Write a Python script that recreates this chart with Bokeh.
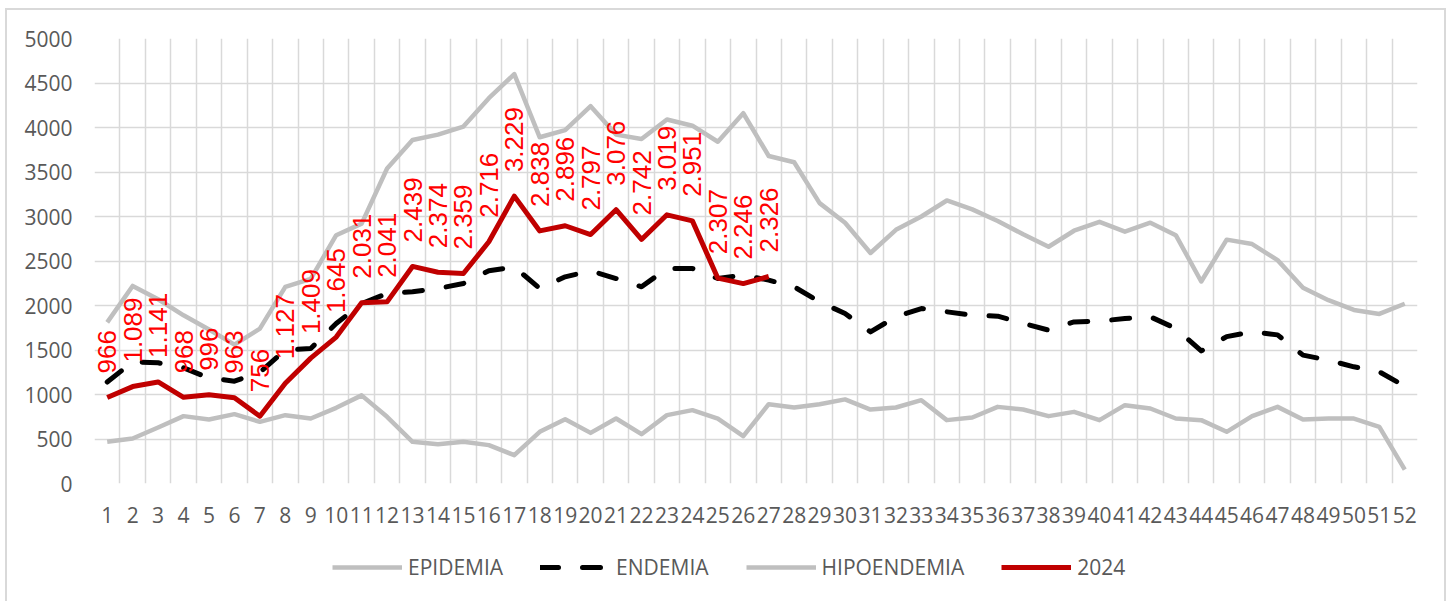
from bokeh.plotting import figure
from bokeh.layouts import column
from bokeh.models import ColumnDataSource, FixedTicker, Legend, LegendItem
from bokeh.core.properties import value
from bokeh.embed import file_html
from bokeh.resources import INLINE
import math

weeks = list(range(1, 53))
week_labels = [str(w) for w in weeks]

epidemia = [1810, 2220, 2070, 1890, 1730, 1560, 1740, 2210, 2300, 2790,
            2920, 3540, 3860, 3920, 4010, 4330, 4600, 3890, 3970, 4240,
            3920, 3870, 4090, 4020, 3840, 4160, 3680, 3610, 3150, 2930,
            2590, 2850, 3000, 3180, 3080, 2950, 2800, 2660, 2840, 2940,
            2830, 2930, 2790, 2270, 2740, 2690, 2510, 2200, 2060, 1950,
            1905, 2020]
endemia = [1140, 1367, 1356, 1300, 1185, 1150, 1250, 1500, 1517, 1798,
           2022, 2135, 2154, 2191, 2247, 2390, 2434, 2191, 2322, 2390,
           2303, 2210, 2416, 2416, 2303, 2341, 2285, 2210, 2041, 1910,
           1704, 1873, 1966, 1929, 1891, 1880, 1800, 1723, 1816, 1824,
           1854, 1873, 1742, 1490, 1650, 1705, 1670, 1442, 1386, 1311,
           1255, 1094]
hipoendemia = [468, 506, 629, 757, 719, 779, 693, 768, 730, 850,
               990, 749, 468, 442, 468, 431, 318, 581, 723, 569,
               730, 554, 768, 824, 730, 532, 891, 854, 891, 945,
               831, 854, 936, 712, 742, 861, 831, 757, 805, 712,
               880, 843, 730, 712, 581, 757, 861, 719, 730, 730,
               637, 157]
y2024 = [966, 1089, 1141, 968, 996, 963, 756, 1127, 1409, 1645,
         2031, 2041, 2439, 2374, 2359, 2716, 3229, 2838, 2896, 2797,
         3076, 2742, 3019, 2951, 2307, 2246, 2326]

y_ticks = [0, 500, 1000, 1500, 2000, 2500, 3000, 3500, 4000, 4500, 5000]

FONT = "Open Sans"
GRAY_TXT = "#595959"
GRID = "#d9d9d9"

STYLES = dict(
    epi=dict(line_color="#bfbfbf", line_width=4.5, line_join="round"),
    end=dict(line_color="black", line_width=5, line_dash="18 24",
             line_cap="round", line_join="round"),
    hipo=dict(line_color="#bfbfbf", line_width=4.5, line_join="round"),
    y24=dict(line_color="#c00000", line_width=5, line_join="round"),
)

p = figure(width=1447, height=540, output_backend="svg", toolbar_location=None,
           x_range=(0.5, 52.5), y_range=(0, 5000),
           min_border_left=94, min_border_right=30, min_border_top=38,
           min_border_bottom=57)
p.border_fill_color = None
p.background_fill_color = "white"
p.outline_line_color = None

# grids
p.xgrid.ticker = FixedTicker(ticks=[i + 0.5 for i in range(0, 53)])
p.ygrid.ticker = FixedTicker(ticks=y_ticks)
for g in (p.xgrid[0], p.ygrid[0]):
    g.grid_line_color = GRID
    g.grid_line_width = 1.5

# axes
p.xaxis.ticker = FixedTicker(ticks=weeks)
p.xaxis.major_label_overrides = {w: s for w, s in zip(weeks, week_labels)}
p.yaxis.ticker = FixedTicker(ticks=y_ticks)
for ax in (p.xaxis[0], p.yaxis[0]):
    ax.axis_line_color = None
    ax.major_tick_line_color = None
    ax.minor_tick_line_color = None
    ax.major_label_text_font = FONT
    ax.major_label_text_font_size = "21px"
    ax.major_label_text_color = GRAY_TXT
p.yaxis.major_label_standoff = 16
p.xaxis.major_label_standoff = 17

src = ColumnDataSource(dict(x=weeks, epi=epidemia, end=endemia, hipo=hipoendemia))
src24 = ColumnDataSource(dict(x=weeks[:len(y2024)], y=y2024,
                              lab=[f"{v:,}".replace(",", ".") for v in y2024]))

p.line("x", "epi", source=src, **STYLES["epi"])
p.line("x", "hipo", source=src, **STYLES["hipo"])
p.line("x", "end", source=src, **STYLES["end"])
p.line("x", "y", source=src24, **STYLES["y24"])

p.text(x="x", y="y", text="lab", source=src24, angle=math.pi / 2,
       text_align="left", text_baseline="middle", y_offset=-24,
       text_font=value("Liberation Sans"), text_font_size="26px",
       text_color="#ff0000")

# legend strip (separate figure so the legend is not clipped by the frame)
lg = figure(width=1447, height=61, output_backend="svg", toolbar_location=None,
            x_range=(0, 1), y_range=(0, 1),
            min_border_left=0, min_border_right=0, min_border_top=0,
            min_border_bottom=0)
lg.axis.visible = False
lg.grid.visible = False
lg.outline_line_color = None
lg.border_fill_color = None
lg.background_fill_color = None
l_epi = lg.line("x", "epi", source=src, visible=False, **STYLES["epi"])
l_end = lg.line("x", "end", source=src, visible=False, **STYLES["end"])
l_hipo = lg.line("x", "hipo", source=src, visible=False, **STYLES["hipo"])
l_24 = lg.line("x", "y", source=src24, visible=False, **STYLES["y24"])

legend = Legend(items=[LegendItem(label="EPIDEMIA", renderers=[l_epi]),
                       LegendItem(label="ENDEMIA", renderers=[l_end]),
                       LegendItem(label="HIPOENDEMIA", renderers=[l_hipo]),
                       LegendItem(label="2024", renderers=[l_24])],
                orientation="horizontal", location=(238, 20),
                glyph_width=70, glyph_height=20, label_standoff=6, spacing=37,
                padding=0, margin=0, border_line_color=None,
                background_fill_color=None,
                inactive_fill_alpha=0,
                label_text_font=FONT, label_text_font_size="21px",
                label_text_color=GRAY_TXT)
lg.add_layout(legend, "center")

lay = column(p, lg, spacing=0,
             styles={"box-shadow": "inset 5px 8px 0 white, inset -1px 0 0 white, "
                                   "inset 7px 10px 0 #d9d9d9, inset -3px 0 0 #d9d9d9"})

open("out.html", "w").write(file_html(lay, INLINE))
